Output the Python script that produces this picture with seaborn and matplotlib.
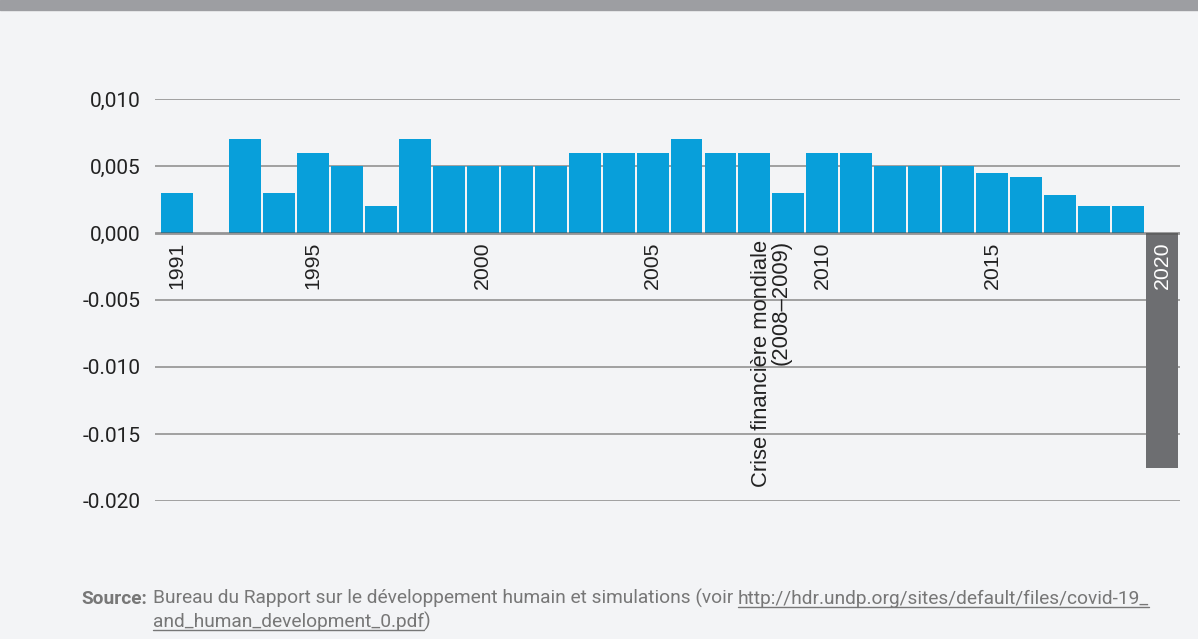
import matplotlib
matplotlib.use('Agg')
import matplotlib.pyplot as plt
import seaborn as sns
import pandas as pd
from matplotlib.lines import Line2D
from matplotlib.patches import Rectangle

years = list(range(1991, 2021))
values = [0.003, 0.0, 0.007, 0.003, 0.006, 0.005, 0.002, 0.007, 0.005, 0.005,
          0.005, 0.005, 0.006, 0.006, 0.006, 0.007, 0.006, 0.006, 0.003, 0.006,
          0.006, 0.005, 0.005, 0.005, 0.0045, 0.0042, 0.0028, 0.002, 0.002, -0.0175]
groups = ['normal'] * 29 + ['covid']
year_labels = ['1991', '1995', '2000', '2005', '2010', '2015', '2020']
crisis_label = 'Crise financière mondiale\n(2008–2009)'
ytick_values = [0.010, 0.005, 0.0, -0.005, -0.010, -0.015, -0.020]
ytick_labels = ['0,010', '0,005', '0,000', '-0.005', '-0.010', '-0.015', '-0.020']

BG = '#f3f4f6'
BLUE = '#089fda'
DARK = '#6d6e71'
TXT = '#222222'
SRC = '#777777'
XFONT = ['Liberation Sans', 'DejaVu Sans']


def main():
    sns.set_style('white')
    plt.rcParams['font.family'] = ['Roboto', 'DejaVu Sans']
    df = pd.DataFrame({'year': [str(y) for y in years], 'value': values, 'group': groups})

    W, H = 1198, 639
    fig = plt.figure(figsize=(W / 100, H / 100), dpi=100, facecolor=BG)
    ax = fig.add_axes([155 / W, 1 - 501 / H, (1180 - 155) / W, (501 - 99) / H])
    ax.set_facecolor(BG)

    sns.barplot(data=df, x='year', y='value', hue='group', dodge=False,
                palette={'normal': BLUE, 'covid': DARK}, width=0.94, saturation=1,
                legend=False, ax=ax, zorder=2, linewidth=0)

    ax.set_xlim(-0.65, 29.53)
    ax.set_ylim(-0.020, 0.010)
    ax.set_yticks(ytick_values, ytick_labels)
    ax.tick_params(axis='y', length=0, pad=10.5, labelsize=15, labelcolor=TXT)
    ax.set_xticks([])
    ax.set_xlabel('')
    ax.set_ylabel('')
    for s in ax.spines.values():
        s.set_visible(False)
    for v in ytick_values:
        if v != 0:
            ax.axhline(v, color='#9a9a9a', lw=1.3, zorder=1)
    ax.axhline(0, color='#555555', alpha=0.6, lw=2, zorder=3)

    # year labels under the zero line
    for lab in year_labels:
        pos = years.index(int(lab))
        col = 'white' if lab == '2020' else TXT
        ax.annotate(lab, (pos, 0), xytext=(0, -6), textcoords='offset points',
                    rotation=90, ha='center', va='top', fontsize=15.3, color=col,
                    family=XFONT, zorder=4)
    crisis_pos = (years.index(2008) + years.index(2009)) / 2
    ax.annotate(crisis_label, (crisis_pos, 0), xytext=(0, -5), textcoords='offset points',
                rotation=90, ha='center', va='top', ma='right', fontsize=15.8,
                color=TXT, family=XFONT, linespacing=0.95, zorder=4)

    # top band
    fig.patches.append(Rectangle((0, 1 - 10 / H), 1, 10 / H, transform=fig.transFigure,
                                 color='#9d9ea2', zorder=0))

    # source note
    fs = 13.75
    y1 = 1 - 604 / H
    y2 = 1 - 627 / H
    fig.text(81 / W, y1, 'Source:', fontsize=fs, fontweight='bold', color=SRC, va='baseline')
    t1 = fig.text(153 / W, y1, 'Bureau du Rapport sur le développement humain et simulations (voir ',
                  fontsize=fs, color=SRC, va='baseline')
    fig.canvas.draw()
    r = fig.canvas.get_renderer()
    bb = t1.get_window_extent(r)
    t2 = fig.text(bb.x1 / W, y1, 'http://hdr.undp.org/sites/default/files/covid-19_',
                  fontsize=fs, color=SRC, va='baseline')
    t3 = fig.text(153 / W, y2, 'and_human_development_0.pdf', fontsize=fs, color=SRC, va='baseline')
    fig.canvas.draw()
    for t in (t2, t3):
        b = t.get_window_extent(r)
        fig.lines.append(Line2D([b.x0 / W, b.x1 / W], [(b.y0 + 1) / H] * 2,
                                transform=fig.transFigure, color=SRC, lw=1))
    b3 = t3.get_window_extent(r)
    fig.text(b3.x1 / W, y2, ')', fontsize=fs, color=SRC, va='baseline')

    fig.savefig('out.png', dpi=100, facecolor=BG)
    plt.close(fig)


if __name__ == '__main__':
    main()
